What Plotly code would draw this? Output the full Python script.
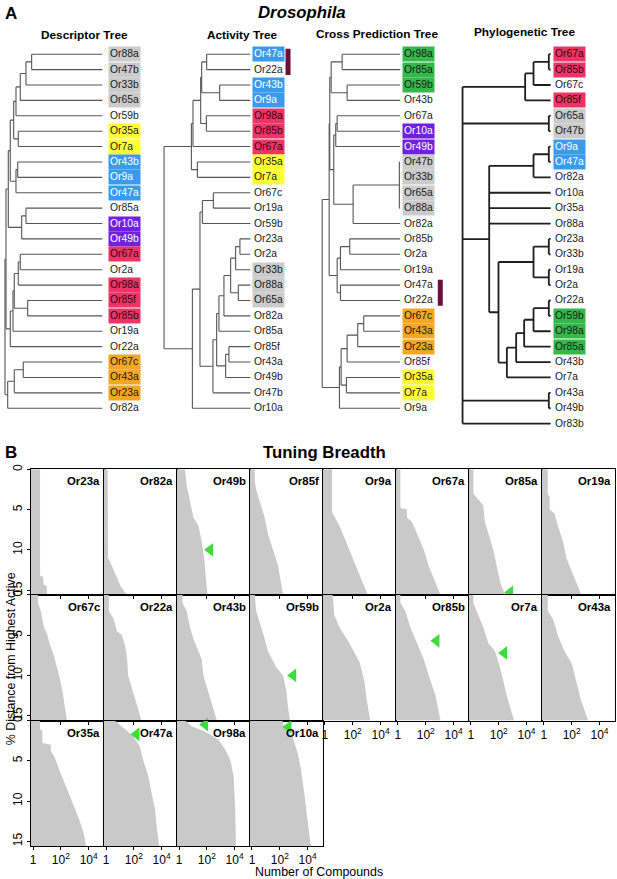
import plotly.graph_objects as go

W, H = 617, 879
FONT = "Liberation Sans, Arial, Helvetica, sans-serif"

# ---------------- Panel A: four dendrograms ----------------
# fill / text colour for highlighted leaf labels
group_colors = {
    "gray": ("#cbcbcb", "#1a1a1a"),
    "yellow": ("#ffff33", "#1a1a1a"),
    "blue": ("#3a9bec", "white"),
    "purple": ("#7021e0", "white"),
    "red": ("#ee3366", "#2b0a12"),
    "orange": ("#f5a623", "#1a1a1a"),
    "green": ("#35b84a", "#1a1a1a"),
}

# trees as nested [merge distance, child, child, ...]; leaves are names
descriptor_tree = [97.7,
    [96.7,
        [94.4,
            [92.4,
                [89.0,
                    [86.7, [82.4, [76.7, [71.0, "Or88a", "Or47b"], "Or33b"], "Or65a"], "Or59b"],
                    [84.4, "Or35a", "Or7a"]],
                [86.7, [85.0, "Or43b", "Or9a"], "Or47a"]],
            [81.0, [76.7, "Or85a", "Or10a"], "Or49b"]],
        [92.4, [89.7, [88.4, [84.4, [82.4, "Or67a", "Or2a"], "Or98a"],
                       [75.0, "Or85f", "Or85b"]], "Or19a"], "Or22a"]],
    [95.0, [88.4, [79.4, "Or67c", "Or43a"], "Or23a"], "Or82a"]]

activity_tree = [86.7,
    [59.3,
        [57.7, [50.0, [49.0, [44.0, "Or47a", "Or22a"], [31.0, "Or43b", "Or9a"]],
                [44.3, "Or98a", "Or85b"]], "Or67a"],
        [53.3, "Or35a", "Or7a"]],
    [58.3,
        [50.7,
            [48.3, [37.3, "Or67c", "Or19a"], "Or59b"],
            [37.7,
                [34.0,
                    [31.7, [26.7, [20.0, [15.0, [10.7, "Or23a", "Or2a"], "Or33b"],
                                   [12.3, "Or88a", "Or65a"]], "Or82a"], "Or85a"],
                    [25.0, [21.7, "Or85f", "Or43a"], "Or49b"]],
                "Or47b"]],
        "Or10a"]]

cross_tree = [78.3,
    [71.3,
        [70.7,
            [69.3, [58.3, "Or98a", "Or85a"], [53.3, "Or59b", "Or43b"]],
            [66.7, [64.7, [63.3, "Or67a", "Or10a"], "Or49b"],
                   [47.3, [1.0, "Or47b", "Or33b", "Or65a", "Or88a"], "Or82a"]]],
        [63.3, [60.0, [50.7, "Or85b", "Or2a"], "Or19a"], [60.0, "Or47a", "Or22a"]]],
    [61.0, [59.3, [53.3, [42.7, [36.7, "Or67c", "Or43a"], "Or23a"], "Or85f"],
                  [54.0, "Or35a", "Or7a"]], "Or9a"]]

phylo_tree = [88.4,
    [25.7, [17.3, [2.0, "Or67a", "Or85b"], "Or67c"], "Or85f"],
    [2.0, "Or65a", "Or47b"],
    [61.7,
        [17.3, [2.0, "Or9a", "Or47a"], "Or82a"],
        "Or10a", "Or35a", "Or88a",
        [52.4,
            [17.3, [2.0, "Or23a", "Or33b"], [2.0, "Or19a", "Or2a"]],
            [44.0, [34.7, [26.7, [17.3, [2.0, "Or22a", "Or59b"], "Or98a"], "Or85a"],
                    "Or43b"], "Or7a"]]],
    [2.0, "Or43a", "Or49b"],
    "Or83b"]

descriptor_groups = {
    "Or88a": "gray", "Or47b": "gray", "Or33b": "gray", "Or65a": "gray",
    "Or35a": "yellow", "Or7a": "yellow", "Or43b": "blue", "Or9a": "blue", "Or47a": "blue",
    "Or10a": "purple", "Or49b": "purple", "Or67a": "red", "Or98a": "red", "Or85f": "red",
    "Or85b": "red", "Or67c": "orange", "Or43a": "orange", "Or23a": "orange",
}
activity_groups = {
    "Or47a": "blue", "Or43b": "blue", "Or9a": "blue", "Or98a": "red", "Or85b": "red",
    "Or67a": "red", "Or35a": "yellow", "Or7a": "yellow", "Or33b": "gray", "Or88a": "gray",
    "Or65a": "gray",
}
cross_groups = {
    "Or98a": "green", "Or85a": "green", "Or59b": "green", "Or10a": "purple", "Or49b": "purple",
    "Or47b": "gray", "Or33b": "gray", "Or65a": "gray", "Or88a": "gray", "Or67c": "orange",
    "Or43a": "orange", "Or23a": "orange", "Or35a": "yellow", "Or7a": "yellow",
}
phylo_groups = {
    "Or67a": "red", "Or85b": "red", "Or85f": "red", "Or65a": "gray", "Or47b": "gray",
    "Or9a": "blue", "Or47a": "blue", "Or59b": "green", "Or98a": "green", "Or85a": "green",
}

tree_titles = ["Descriptor Tree", "Activity Tree", "Cross Prediction Tree", "Phylogenetic Tree"]

# ---------------- Panel B: tuning breadth ----------------
cell_order = ["Or23a", "Or82a", "Or49b", "Or85f", "Or9a", "Or67a", "Or85a", "Or19a",
              "Or67c", "Or22a", "Or43b", "Or59b", "Or2a", "Or85b", "Or7a", "Or43a",
              "Or35a", "Or47a", "Or98a", "Or10a"]

# % distance from highest active -> number of compounds
tuning_distance = {
    "Or23a": [0, 13.2, 13.4, 14.3, 14.5, 15.6],
    "Or82a": [0, 11, 11.5, 13, 14.5, 15.6],
    "Or49b": [0, 2, 4, 6, 7, 9, 11, 15.6],
    "Or85f": [0, 1.5, 2.5, 4, 6, 8, 10, 12, 15.6],
    "Or9a": [0, 5.3, 6, 7, 9, 11, 13, 15.6],
    "Or67a": [0, 4.8, 5, 6, 6.5, 8, 10, 12, 14, 15.6],
    "Or85a": [0, 3, 3.5, 4.5, 6.5, 8, 10, 12, 14, 15.6],
    "Or19a": [0, 3, 3.5, 5, 5.5, 7, 9, 11, 13, 15.6],
    "Or67c": [0, 1, 2, 3, 4, 5, 6, 7, 9, 10, 12, 15.6],
    "Or22a": [0, 2, 3, 4.5, 5, 6.5, 8, 10, 12, 14, 15.6],
    "Or43b": [0, 1, 2, 4, 5.5, 7, 8, 10, 12, 14, 15.6],
    "Or59b": [0, 2, 4, 5.5, 7, 9, 10, 12, 14, 15.6],
    "Or2a": [0, 2.5, 4, 6, 8.3, 10.8, 13, 15.6],
    "Or85b": [0, 1, 2, 4, 6, 8, 10, 12.5, 15.6],
    "Or7a": [0, 1, 2, 4, 6, 7, 9, 12.5, 15.6],
    "Or43a": [0, 2, 3, 5, 7, 8.5, 11, 13, 15.6],
    "Or35a": [0, 1.1, 1.2, 2.8, 3, 3.8, 4.4, 6.1, 8.1, 10.2, 12.3, 14.3, 15.6],
    "Or47a": [0, 0.6, 1.2, 2, 3.2, 4.9, 6.9, 9, 11, 13, 15.6],
    "Or98a": [0, 0.7, 1.4, 2.4, 3.6, 4.9, 6.9, 11, 15.6],
    "Or10a": [0, 0.8, 1.5, 2, 4, 6, 9, 12.3, 15.6],
}
tuning_count = {
    "Or23a": [3.2, 3.2, 5.6, 5.6, 9.8, 9.8],
    "Or82a": [1.3, 1.4, 2, 4.7, 11, 33],
    "Or49b": [2.7, 3.6, 6.2, 11, 25, 43, 64, 112],
    "Or85f": [1.6, 1.6, 2, 3.6, 8.3, 14, 33, 76, 174],
    "Or9a": [3.2, 3.2, 5.6, 11, 33, 100, 300, 1200],
    "Or67a": [1.5, 1.5, 4.5, 4.5, 10, 24, 72, 165, 500, 1150],
    "Or85a": [1.5, 1.5, 2.6, 7.8, 10, 18, 41, 72, 125, 290],
    "Or19a": [1.9, 1.9, 2.6, 2.6, 5.9, 10, 24, 41, 125, 500],
    "Or67c": [2.3, 2.3, 3.6, 4.7, 6.2, 11, 15, 25, 57, 76, 132, 270],
    "Or22a": [1.6, 1.6, 3.6, 6.2, 14, 25, 33, 39, 89, 204, 360],
    "Or43b": [1.8, 1.8, 3.6, 6.2, 11, 25, 43, 57, 132, 300, 530],
    "Or59b": [1.6, 2, 4.7, 8.3, 14, 57, 174, 300, 400, 530],
    "Or2a": [3.6, 4.7, 11, 57, 300, 700, 1000, 1800],
    "Or85b": [1.5, 1.5, 3.4, 7.8, 24, 72, 165, 500, 1150],
    "Or7a": [1.5, 1.5, 2.6, 7.8, 18, 54, 125, 380, 1260],
    "Or43a": [1.9, 1.9, 4.5, 10, 30, 100, 220, 450, 1500],
    "Or35a": [3.2, 3.2, 4.7, 4.7, 19, 19, 33, 76, 230, 700, 2100, 4900, 6400],
    "Or47a": [4.2, 11, 30, 89, 270, 470, 1100, 1900, 3300, 4300, 6800],
    "Or98a": [2.7, 8.3, 76, 700, 2100, 4900, 8500, 11000, 12500],
    "Or10a": [155, 200, 500, 830, 1900, 3300, 5700, 10000, 17000],
}

marker_receptors = ["Or49b", "Or85a", "Or59b", "Or85b", "Or7a", "Or47a", "Or98a", "Or10a"]
marker_distance = [10, 15.3, 10, 5.7, 7.2, 1.7, 0.5, 0.8]
marker_count = [174, 660, 920, 590, 245, 155, 76, 425]

x_tickvals = [1, 100, 10000]
x_ticktext = ["1", "10<sup>2</sup>", "10<sup>4</sup>"]
y_tickvals = [0, 5, 10, 15]


def px_x(p):
    return p / W


def px_y(p):
    return 1 - p / H


def layout_tree(node, leaves):
    """returns node distance, node y and line segments"""
    if isinstance(node, str):
        leaves.append(node)
        return 0.0, len(leaves) - 1, [], []
    h = node[0]
    xs, ys, pos = [], [], []
    for child in node[1:]:
        cx, cy, sx, sy = layout_tree(child, leaves)
        xs += sx
        ys += sy
        pos.append((cx, cy))
    lo = min(p[1] for p in pos)
    hi = max(p[1] for p in pos)
    xs += [h, h, None]
    ys += [lo, hi, None]
    for cx, cy in pos:
        xs += [h, cx, None]
        ys += [cy, cy, None]
    return h, (lo + hi) / 2, xs, ys


fig = go.Figure()
annotations = []
shapes = []
layout = {}

# panel A geometry (pixels)
LEAF_TOP, LEAF_STEP = 49.5, 15.48
A_TOP, A_BOT = 40.0, 436.0
layout["yaxis"] = dict(domain=[px_y(A_BOT), px_y(A_TOP)],
                       range=[(A_BOT - LEAF_TOP) / LEAF_STEP, (A_TOP - LEAF_TOP) / LEAF_STEP],
                       visible=False)

trees = [descriptor_tree, activity_tree, cross_tree, phylo_tree]
groups = [descriptor_groups, activity_groups, cross_groups, phylo_groups]
tree_px = [(0.0, 101.7), (150.0, 250.0), (310.0, 400.0), (455.0, 550.7)]
label_gap = [5.5, 1.8, 2.0, 2.3]
title_x = [84, 242, 377, 524]
title_y = [30, 30, 29, 27]
line_styles = [("#555555", 1.1), ("#555555", 1.1), ("#555555", 1.1), ("#1e1e1e", 1.8)]

for i, tree in enumerate(trees):
    axis = "x" if i == 0 else f"x{i + 1}"
    key = "xaxis" if i == 0 else f"xaxis{i + 1}"
    left, right = tree_px[i]
    layout[key] = dict(domain=[px_x(left), px_x(right)], range=[right - left, 0],
                       anchor="y", visible=False)
    leaves = []
    _, _, xs, ys = layout_tree(tree, leaves)
    color, width = line_styles[i]
    fig.add_trace(go.Scatter(x=xs, y=ys, mode="lines", xaxis=axis, yaxis="y",
                             line=dict(color=color, width=width), hoverinfo="skip"))
    for j, name in enumerate(leaves):
        g = groups[i].get(name)
        bg, fg = group_colors[g] if g else ("rgba(0,0,0,0)", "#1a1a1a")
        annotations.append(dict(
            x=0, y=j, xref=axis, yref="y", text=name, showarrow=False,
            xanchor="left", yanchor="middle", xshift=label_gap[i], align="left",
            width=29, height=11.5, borderpad=1, bgcolor=bg,
            font=dict(family=FONT, size=10.3, color=fg)))
    annotations.append(dict(
        x=px_x(title_x[i]), y=px_y(title_y[i]), xref="paper", yref="paper",
        text=f"<b>{tree_titles[i]}</b>", showarrow=False, xanchor="center", yanchor="middle",
        font=dict(family=FONT, size=11.8, color="black")))

# coloured bars marking Or47a / Or22a
for axis_px, leaf0 in [((285.0, 290.0), 0), ((437.5, 442.5), 15)]:
    shapes.append(dict(type="rect", xref="paper", yref="y",
                       x0=px_x(axis_px[0]), x1=px_x(axis_px[1]),
                       y0=leaf0 - 0.35, y1=leaf0 + 1.35,
                       fillcolor="#6a0f3e", line=dict(width=0)))

# panel B geometry (pixels)
B_LEFT, B_TOP = 30.0, 467.0
CELL_W, CELL_H = 73.1, 126.3
N_COLS = 8

for k, name in enumerate(cell_order):
    row, col = divmod(k, N_COLS)
    xn, yn = 5 + k, 2 + k
    x0 = B_LEFT + col * CELL_W
    y0 = B_TOP + row * CELL_H
    d = tuning_distance[name]
    c = tuning_count[name]
    fig.add_trace(go.Scatter(
        x=[0.5] + c + [0.5], y=[d[0]] + d + [d[-1]], mode="lines", fill="toself",
        fillcolor="#c9c9c9", line=dict(width=0, color="#c9c9c9"),
        xaxis=f"x{xn}", yaxis=f"y{yn}", hoverinfo="skip"))
    if name in marker_receptors:
        m = marker_receptors.index(name)
        fig.add_trace(go.Scatter(
            x=[marker_count[m]], y=[marker_distance[m]], mode="markers",
            marker=dict(symbol="triangle-left", size=12, color="#3ddc3d"),
            xaxis=f"x{xn}", yaxis=f"y{yn}", cliponaxis=False, hoverinfo="skip"))
    show_x = row == 2 or (row == 1 and col >= 4)
    layout[f"xaxis{xn}"] = dict(
        type="log", range=[-0.15, 5.1], domain=[px_x(x0), px_x(x0 + CELL_W)],
        anchor=f"y{yn}", showline=True, mirror=True, linecolor="black", linewidth=1,
        ticks="outside", ticklen=3, tickcolor="black", tickvals=x_tickvals,
        ticktext=x_ticktext, showticklabels=show_x, showgrid=False, zeroline=False,
        tickfont=dict(family=FONT, size=12, color="black"))
    layout[f"yaxis{yn}"] = dict(
        range=[15.6, 0], domain=[px_y(y0 + CELL_H), px_y(y0)], anchor=f"x{xn}",
        showline=True, mirror=True, linecolor="black", linewidth=1,
        ticks="outside" if col == 0 else "", ticklen=3, tickcolor="black",
        tickvals=y_tickvals, showticklabels=col == 0, tickangle=-90,
        showgrid=False, zeroline=False,
        tickfont=dict(family=FONT, size=12, color="black"))
    annotations.append(dict(
        x=px_x(x0 + CELL_W), y=px_y(y0), xref="paper", yref="paper",
        text=f"<b>{name}</b>", showarrow=False, xanchor="right", yanchor="top",
        xshift=-2, yshift=-4, font=dict(family=FONT, size=11.4, color="black")))

# headings and axis titles
for text, x, y, size in [
    ("<b>A</b>", 10, 9, 17), ("<b>B</b>", 10, 450, 17),
    ("<b><i>Drosophila</i></b>", 301, 8, 16.8), ("<b>Tuning Breadth</b>", 324, 450, 16.8),
    ("Number of Compounds", 319, 872, 12.4),
]:
    annotations.append(dict(x=px_x(x), y=px_y(y), xref="paper", yref="paper", text=text,
                            showarrow=False, xanchor="center", yanchor="middle",
                            font=dict(family=FONT, size=size, color="black")))
annotations.append(dict(x=px_x(10), y=px_y(657), xref="paper", yref="paper",
                        text="% Distance from Highest Active", textangle=-90,
                        showarrow=False, xanchor="center", yanchor="middle",
                        font=dict(family=FONT, size=12.4, color="black")))

fig.update_layout(
    width=W, height=H, margin=dict(l=0, r=0, t=0, b=0),
    paper_bgcolor="white", plot_bgcolor="white", showlegend=False,
    annotations=annotations, shapes=shapes, **layout)

# page body margin would shift the 617x879 figure inside the window
fig.write_html("out.html", config={"displayModeBar": False},
               post_script="document.body.style.margin='0px';")
